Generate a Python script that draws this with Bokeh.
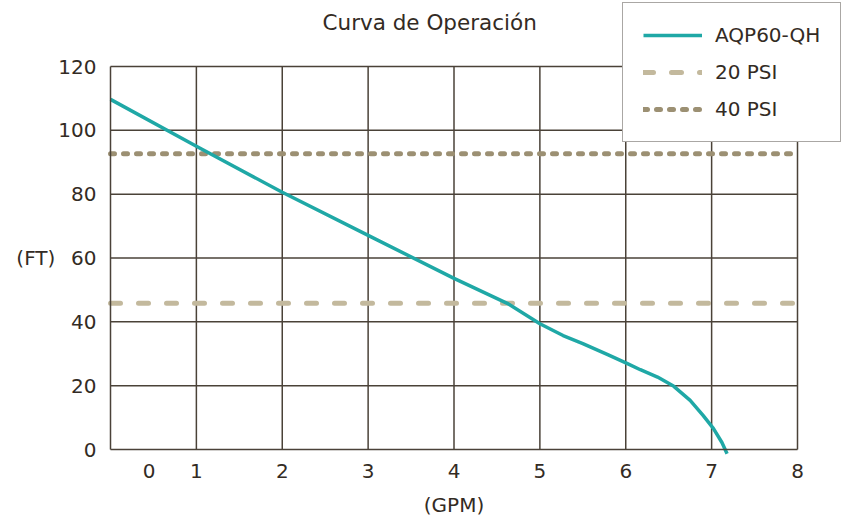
from bokeh.plotting import figure
from bokeh.models import FixedTicker, Legend, LegendItem, Label
from bokeh.embed import file_html
from bokeh.resources import INLINE

# ---- data ----
curve_gpm = [0.0, 1.0, 2.0, 3.0, 4.0, 4.62, 5.0, 5.27, 5.5, 5.79, 6.02, 6.17, 6.37,
             6.56, 6.75, 6.90, 7.02, 7.12, 7.18]
curve_ft = [109.7, 95.0, 80.6, 67.1, 53.6, 45.8, 39.4, 35.7, 33.2, 29.7, 26.9, 25.0, 22.7,
            19.8, 15.4, 10.7, 6.6, 2.2, -1.3]
psi_gpm = [0.0, 8.0]
psi20_ft = [45.8, 45.8]
psi40_ft = [92.7, 92.7]
x_tick_pos = [0.45, 1, 2, 3, 4, 5, 6, 7, 8]
x_tick_labels = ["0", "1", "2", "3", "4", "5", "6", "7", "8"]
x_grid = [1, 2, 3, 4, 5, 6, 7, 8]
y_ticks = [0, 20, 40, 60, 80, 100, 120]
y_grid = [20, 40, 60, 80, 100, 120]
x_min, x_max = 0, 8
y_min, y_max = 0, 120

FONT = "DejaVu Sans"
TXT = "#332b24"
GRID = "#4a4238"

W, H = 842, 522
# pixel box of the chart area inside the canvas
FL, FR, FT, FB = 110, 797, 66, 449
ux = (FR - FL) / (x_max - x_min)
uy = (FB - FT) / (y_max - y_min)
xr = (x_min - FL / ux, x_max + (W - FR) / ux)
yr = (y_min - (H - FB) / uy, y_max + FT / uy)

p = figure(width=W, height=H, x_range=xr, y_range=yr,
           output_backend="svg", toolbar_location=None, min_border=0)
p.outline_line_color = None
p.xgrid.visible = False
p.ygrid.visible = False

# grid + frame lines
p.segment(x0=x_grid, y0=[y_min] * len(x_grid), x1=x_grid, y1=[y_max] * len(x_grid),
          line_color=GRID, line_width=1.5)
p.segment(x0=[x_min] * len(y_grid), y0=y_grid, x1=[x_max] * len(y_grid), y1=y_grid,
          line_color=GRID, line_width=1.5)

p.xaxis.fixed_location = y_min
p.yaxis.fixed_location = x_min
p.xaxis.bounds = (x_min, x_max)
p.yaxis.bounds = (y_min, y_max)
p.xaxis.ticker = FixedTicker(ticks=x_tick_pos)
p.xaxis.major_label_overrides = {t: l for t, l in zip(x_tick_pos, x_tick_labels)}
p.yaxis.ticker = FixedTicker(ticks=y_ticks)

for ax in (p.xaxis, p.yaxis):
    ax.axis_line_color = GRID
    ax.axis_line_width = 1.5
    ax.major_tick_line_color = None
    ax.minor_tick_line_color = None
    ax.major_label_text_font = FONT
    ax.major_label_text_font_size = "20px"
    ax.major_label_text_color = TXT
    ax.axis_label_text_font = FONT
    ax.axis_label_text_font_size = "20px"
    ax.axis_label_text_font_style = "normal"
    ax.axis_label_text_color = TXT

p.xaxis.major_label_standoff = 8
p.yaxis.major_label_standoff = 8
p.xaxis.axis_label = "(GPM)"
p.xaxis.axis_label_standoff = 12
p.yaxis.axis_label = "(FT)"
p.yaxis.axis_label_orientation = "horizontal"
p.yaxis.axis_label_standoff = 0

r20 = p.line(psi_gpm, psi20_ft, line_color="#c3b99d", line_width=5,
             line_dash="10 18", line_cap="round")
r40 = p.line(psi_gpm, psi40_ft, line_color="#9c9073", line_width=5,
             line_dash="4 9", line_cap="round")
rc = p.line(curve_gpm, curve_ft, line_color="#1fa8a6", line_width=3.5,
            line_join="round")

title = Label(x=322, y=H - 22, x_units="screen", y_units="screen",
              text="Curva de Operación", text_font=FONT, text_font_size="21.5px",
              text_color=TXT, text_align="left", text_baseline="middle")
p.add_layout(title)

legend = Legend(items=[LegendItem(label="AQP60-QH", renderers=[rc]),
                       LegendItem(label="20 PSI", renderers=[r20]),
                       LegendItem(label="40 PSI", renderers=[r40])],
                location=(622, H - 142))
legend.label_text_font = FONT
legend.label_text_font_size = "20px"
legend.label_text_color = TXT
legend.glyph_width = 59
legend.glyph_height = 24
legend.spacing = 13
legend.padding = 20
legend.margin = 0
legend.label_standoff = 13
legend.border_line_color = "#555049"
legend.border_line_width = 1.5
legend.background_fill_color = "white"
legend.background_fill_alpha = 1.0
p.add_layout(legend, "center")

open("out.html", "w").write(file_html(p, INLINE))
